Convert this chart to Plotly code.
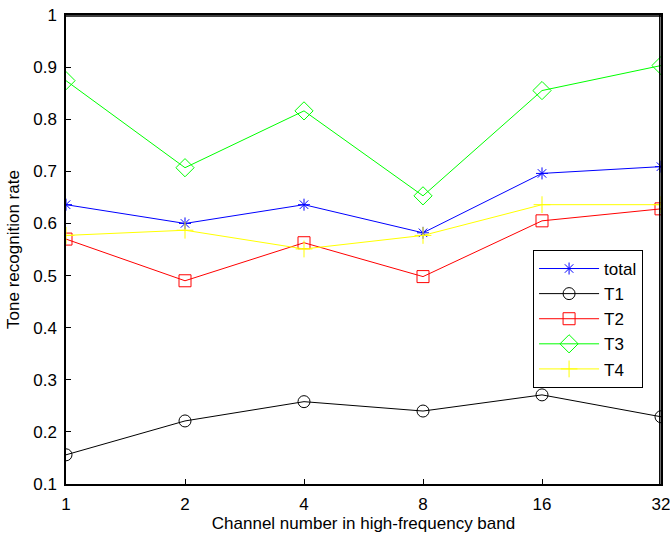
import plotly.graph_objects as go

channels = ["1", "2", "4", "8", "16", "32"]
total = [0.636, 0.600, 0.636, 0.582, 0.696, 0.709]
t1 = [0.156, 0.221, 0.258, 0.240, 0.271, 0.229]
t2 = [0.570, 0.490, 0.563, 0.498, 0.605, 0.628]
t3 = [0.874, 0.707, 0.816, 0.653, 0.855, 0.903]
t4 = [0.577, 0.587, 0.551, 0.577, 0.636, 0.636]

series = [
    ("total", total, "#0000ff", "asterisk-open", 10),
    ("T1", t1, "#000000", "circle-open", 12),
    ("T2", t2, "#ff0000", "square-open", 12),
    ("T3", t3, "#00ff00", "diamond-open", 14),
    ("T4", t4, "#ffff00", "cross-thin-open", 12),
]

fig = go.Figure()
for name, vals, color, sym, size in series:
    fig.add_trace(go.Scatter(
        x=channels, y=vals, name=name, mode="lines+markers",
        line=dict(color=color, width=1),
        marker=dict(symbol=sym, size=size, color=color, line=dict(color=color, width=1)),
    ))

# top and right frame lines (MATLAB style box)
fig.add_shape(type="line", xref="paper", yref="paper", x0=0, x1=1, y0=0.998, y1=0.998,
              line=dict(color="black", width=1.5), layer="above")
fig.add_shape(type="line", xref="paper", yref="paper", x0=0.998, x1=0.998, y0=0, y1=1,
              line=dict(color="black", width=1.5), layer="above")

fig.update_layout(
    width=670, height=536,
    margin=dict(l=66, r=9, t=15, b=52, autoexpand=False),
    paper_bgcolor="white", plot_bgcolor="white",
    font=dict(family="Liberation Sans, Arial, sans-serif", size=17, color="black"),
    showlegend=True,
    legend=dict(
        x=0.785, y=0.499, xanchor="left", yanchor="top",
        bordercolor="black", borderwidth=1, bgcolor="white",
        font=dict(size=17), tracegroupgap=0, itemwidth=60,
    ),
    xaxis=dict(
        type="category", range=[0, 5], automargin=False,
        title=dict(text="Channel number in high-frequency band", font=dict(size=17), standoff=4),
        showgrid=False, zeroline=False,
        showline=True, linecolor="black", linewidth=1.5, mirror=True,
        ticks="inside", ticklen=5, tickcolor="black", ticklabelstandoff=4,
    ),
    yaxis=dict(
        range=[0.1, 1], dtick=0.1, tick0=0.1, automargin=False,
        title=dict(text="Tone recognition rate", font=dict(size=17), standoff=9),
        showgrid=False, zeroline=False,
        showline=True, linecolor="black", linewidth=1.5, mirror=True,
        ticks="inside", ticklen=5, tickcolor="black", ticklabelstandoff=4,
    ),
)

fig.write_html("out.html", config={"displayModeBar": False},
               post_script="document.body.style.margin='0';")
